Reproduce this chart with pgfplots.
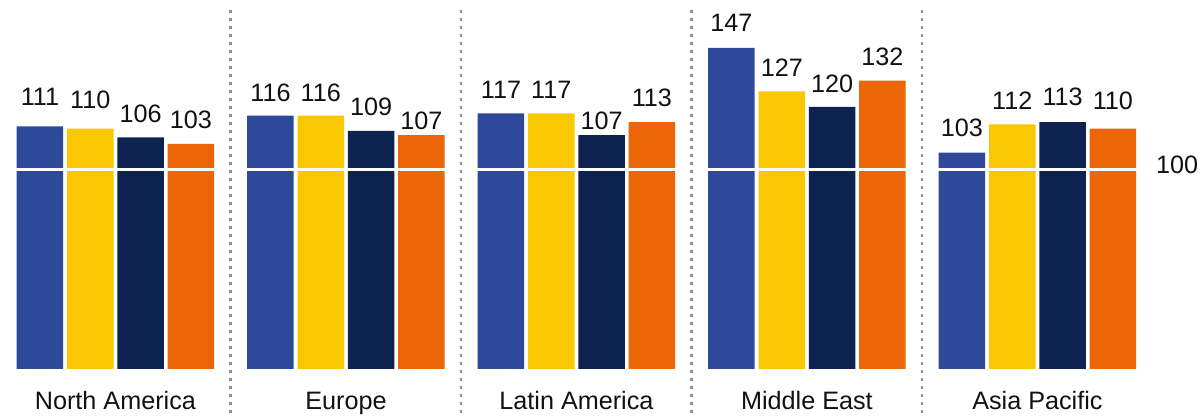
\documentclass[border=0pt]{standalone}
\usepackage{pgfplots}
\usepackage{pgfplotstable}
\pgfplotsset{compat=1.18}
\usepackage{fontspec}
\setmainfont{Liberation Sans}
\definecolor{cblue}{HTML}{2E4999}
\definecolor{cyellow}{HTML}{F9C800}
\definecolor{cnavy}{HTML}{0E2250}
\definecolor{corange}{HTML}{EC6608}
\definecolor{ctext}{HTML}{111111}
\definecolor{cdot}{HTML}{8F8F8F}

% x = region (0 North America, 1 Europe, 2 Latin America, 3 Middle East, 4 Asia Pacific)
% y = drawn bar height, lab = printed label, dy = label offset above bar (pt)
\pgfplotstableread{
x y lab dy
0 111 111 10.25
1 116 116 6.9
2 117 117 7.55
3 147 147 7.9
4 99 103 8.0
}\tblA
\pgfplotstableread{
x y lab dy
0 110 110 10.2
1 116 116 6.9
2 117 117 7.55
3 127 127 7.4
4 112 112 7.5
}\tblB
\pgfplotstableread{
x y lab dy
0 106 106 7.35
1 109 109 7.55
2 107 107 2.95
3 120 120 7.05
4 113 113 8.05
}\tblC
\pgfplotstableread{
x y lab dy
0 103 103 7.8
1 107 107 2.95
2 113 113 7.7
3 132 132 7.3
4 110 110 9.7
}\tblD

\begin{document}
\begin{tikzpicture}
\begin{axis}[
  scale only axis, width=601pt, height=208.5pt,
  xmin=-0.5007, xmax=4.714, ymin=-21.97, ymax=168.88,
  hide axis, clip=false,
  ybar, bar width=23.25pt,
  /pgf/number format/assume math mode=true,
  point meta=explicit,
  nodes near coords,
  visualization depends on={\thisrow{dy} \as \labdy},
  nodes near coords style={font=\fontsize{12.6}{14}\selectfont, text=ctext, anchor=base, inner sep=0pt, yshift=\labdy pt},
]
\addplot[fill=cblue, draw=none, bar shift=-37.725pt] table[x=x,y=y,meta=lab] {\tblA};
\addplot[fill=cyellow, draw=none, bar shift=-12.575pt] table[x=x,y=y,meta=lab] {\tblB};
\addplot[fill=cnavy, draw=none, bar shift=12.575pt] table[x=x,y=y,meta=lab] {\tblC};
\addplot[fill=corange, draw=none, bar shift=37.725pt] table[x=x,y=y,meta=lab] {\tblD};

\draw[white, line width=1.2pt] (axis cs:-0.5,91.3) -- (axis cs:4.5,91.3);

\pgfplotsinvokeforeach{0.5,1.5,2.5,3.5}{
  \draw[cdot, line width=1.2pt, dash pattern=on 1.2pt off 2.8pt]
    (axis cs:#1,164.1) -- (axis cs:#1,-21.97);
}

\node[anchor=base, font=\fontsize{12.6}{14}\selectfont, text=ctext] at (axis cs:0,-18.76) {North America};
\node[anchor=base, font=\fontsize{12.6}{14}\selectfont, text=ctext] at (axis cs:1,-18.76) {Europe};
\node[anchor=base, font=\fontsize{12.6}{14}\selectfont, text=ctext] at (axis cs:2,-18.76) {Latin America};
\node[anchor=base, font=\fontsize{12.6}{14}\selectfont, text=ctext] at (axis cs:3,-18.76) {Middle East};
\node[anchor=base, font=\fontsize{12.6}{14}\selectfont, text=ctext] at (axis cs:4,-18.76) {Asia Pacific};
\node[anchor=base, font=\fontsize{12.6}{14}\selectfont, text=ctext, inner sep=0pt] at (axis cs:4.606,89.7) {100};
\end{axis}
\pgfresetboundingbox
\path[use as bounding box] (current axis.south west) rectangle (current axis.north east);
\end{tikzpicture}
\end{document}
